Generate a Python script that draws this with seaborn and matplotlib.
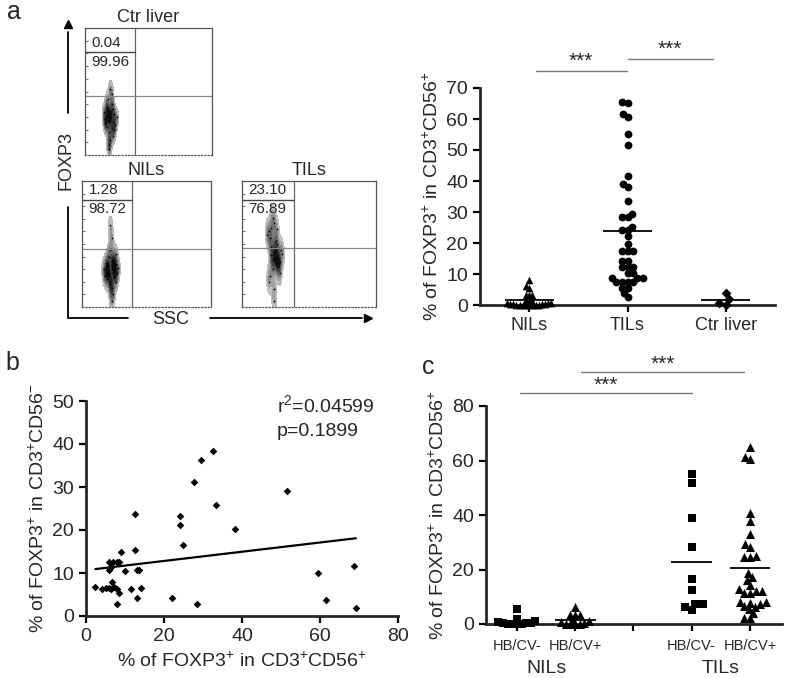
import numpy as np
import pandas as pd
import matplotlib.pyplot as plt
import seaborn as sns
from matplotlib.lines import Line2D
from matplotlib.colors import LinearSegmentedColormap

W, H = 787, 678

# ---- panel a: flow plots, cloud points (box units 0-100)
ctr_x = [20, 18, 22, 17, 21, 19, 23, 16, 20, 18, 24, 21, 19, 15, 22, 20, 17, 25, 19, 21, 18, 22, 20, 23, 16, 19]
ctr_y = [30, 35, 26, 22, 40, 18, 32, 28, 12, 44, 24, 48, 8, 34, 15, 52, 38, 30, 27, 21, 31, 36, 33, 20, 25, 5]
nil_x = [23, 20, 26, 18, 24, 22, 27, 19, 25, 21, 23, 17, 28, 22, 24, 20, 26, 23, 21, 25, 22, 24, 19, 23, 26, 22]
nil_y = [31, 28, 34, 25, 38, 20, 27, 35, 24, 40, 15, 30, 31, 45, 10, 33, 20, 55, 26, 29, 65, 36, 22, 5, 42, 18]
til_x = [22, 20, 24, 19, 23, 26, 21, 25, 24, 28, 22, 27, 25, 30, 23, 26, 29, 21, 24, 27, 25, 22, 28, 24, 26, 20, 23]
til_y = [63, 60, 67, 57, 71, 62, 55, 40, 44, 36, 48, 32, 38, 42, 30, 50, 45, 25, 14, 39, 52, 41, 27, 5, 35, 20, 37]

# ---- panel a: scatter dot plot
a_groups = ["NILs", "TILs", "Ctr liver"]
a_nils = [6.1, 5.6, 8.1, 3.2, 3.2, 3.2, 1.5, 1.2, 1.0, 0.8, 0.6, 0.5, 0.4, 0.3,
          0.2, 0.2, 0.1, 0.1, 0.0, 0.0, 0.0, 0.0, 0.0, 0.0]
a_tils = [65.2, 65.4, 61.7, 60.6, 55.1, 51.7, 41.5, 39.1, 38.2, 33.4, 28.5, 28.5,
          29.4, 24.2, 25.3, 24.2, 22.1, 19.6, 17.5, 17.5, 17.5, 14.3, 14.3, 12.2,
          12.2, 12.2, 10.2, 10.2, 8.6, 8.6, 8.6, 7.5, 7.5, 7.5, 7.5, 5.4, 5.4,
          2.5, 3.8]
a_ctr = [1.8, 0.0, 3.8, 0.5]

# ---- panel b: correlation
b_x = [2.4, 4.1, 5.1, 5.8, 6.4, 7.3, 7.9, 6.0, 6.8, 7.9, 8.5, 6.4, 6.0, 6.7, 8.5,
       7.9, 9.0, 10.1, 11.5, 12.6, 12.6, 13.2, 13.7, 13.2, 14.1, 22.0, 24.1, 24.1,
       24.9, 27.7, 28.5, 29.4, 32.6, 33.3, 38.2, 51.6, 59.5, 61.5, 68.7, 69.2]
b_y = [6.7, 6.3, 6.4, 6.6, 6.3, 6.7, 6.2, 12.6, 12.6, 12.6, 12.6, 11.5, 10.7, 8.0,
       5.4, 2.9, 15.0, 10.5, 6.2, 23.7, 15.3, 10.6, 10.6, 4.3, 6.6, 4.3, 23.3, 21.2,
       16.5, 31.1, 2.9, 36.3, 38.4, 25.8, 20.2, 29.1, 9.9, 3.7, 11.6, 1.8]

# ---- panel c: split by HB/CV status
c_order = ["NILs HB/CV-", "NILs HB/CV+", "", "TILs HB/CV-", "TILs HB/CV+"]
c_ticklabels = ["HB/CV-", "HB/CV+", "", "HB/CV-", "HB/CV+"]
c_nil_neg = [5.4, 1.9, 1.2, 0.8, 0.5, 0.3, 0.2, 0.1, 0.0, 0.0, 0.0]
c_nil_pos = [6.4, 3.3, 3.3, 3.3, 1.5, 1.0, 0.6, 0.3, 0.1, 0.0, 0.0, 0.0]
c_til_neg = [55.0, 51.6, 38.8, 28.4, 16.4, 12.5, 7.3, 7.3, 5.1, 6.4]
c_til_pos = [65.1, 61.4, 60.4, 40.9, 37.9, 33.0, 29.4, 28.4, 25.0, 24.5, 24.5,
             18.8, 17.1, 16.1, 14.3, 12.2, 12.2, 11.3, 11.5, 12.8, 8.2, 7.8, 8.2,
             7.3, 6.7, 5.5, 6.1, 3.9, 2.1, 2.1]

sns.set_style("ticks")
plt.rcParams["font.family"] = ["Liberation Sans", "DejaVu Sans"]
plt.rcParams["mathtext.fontset"] = "custom"
plt.rcParams["mathtext.rm"] = "Liberation Sans"
plt.rcParams["mathtext.default"] = "regular"

fig = plt.figure(figsize=(W / 100, H / 100), dpi=100)


def px_axes(x0, y0, x1, y1):
    return fig.add_axes([x0 / W, 1 - y1 / H, (x1 - x0) / W, (y1 - y0) / H])


def fig_xy(x, y):
    return x / W, 1 - y / H


cloud_cmap = LinearSegmentedColormap.from_list("cloud", ["#d0d0d0", "#000000"])


def flow_panel(box, xs, ys, vline, hline, gate, hi, lo, title):
    ax = px_axes(*box)
    sns.kdeplot(x=xs, y=ys, fill=True, cmap=cloud_cmap, levels=8, thresh=0.06,
                bw_adjust=0.75, ax=ax)
    ax.scatter(xs, ys, s=1.5, c="k", lw=0)
    ax.set_xlim(0, 100)
    ax.set_ylim(0, 100)
    ax.axvline(vline, color="#666666", lw=0.9)
    ax.axhline(hline, color="#888888", lw=0.9)
    ax.axhline(gate, xmax=vline / 100, color="#444444", lw=1.0)
    ax.text(5, gate + 2, hi, fontsize=11, va="bottom", ha="left")
    ax.text(5, gate - 2, lo, fontsize=11, va="top", ha="left")
    for s in ax.spines.values():
        s.set_color("#555555")
        s.set_linewidth(0.9)
    ax.spines["bottom"].set_linestyle(":")
    ax.set_xticks([])
    ax.set_yticks([10, 20, 30, 40, 50, 60, 70, 80, 90])
    ax.tick_params(axis="y", direction="in", length=2, labelleft=False, color="#777777")
    ax.set_xlabel("")
    ax.set_ylabel("")
    ax.set_title(title, fontsize=13, pad=4)
    return ax


flow_panel((85, 28, 212, 155), ctr_x, ctr_y, 39, 46.5, 81, "0.04", "99.96", "Ctr liver")
flow_panel((82, 181, 211, 307), nil_x, nil_y, 39, 46, 85, "1.28", "98.72", "NILs")
flow_panel((242, 181, 376, 307), til_x, til_y, 39, 47, 85, "23.10", "76.89", "TILs")

# flow axis arrows and labels
fig.add_artist(Line2D(*zip(fig_xy(68, 318), fig_xy(68, 207)), color="k", lw=1.3))
fig.add_artist(Line2D(*zip(fig_xy(68, 318), fig_xy(128, 318)), color="k", lw=1.3))
fig.add_artist(Line2D(*zip(fig_xy(68, 113), fig_xy(68, 32)), color="k", lw=1.3))
fig.add_artist(Line2D(*zip(fig_xy(210, 318), fig_xy(362, 318)), color="k", lw=1.3))
fig.add_artist(Line2D([fig_xy(68, 24)[0]], [fig_xy(68, 24)[1]], marker="^", ms=6, color="k"))
fig.add_artist(Line2D([fig_xy(368, 318)[0]], [fig_xy(368, 318)[1]], marker=">", ms=6, color="k"))
fig.text(*fig_xy(66, 160), "FOXP3", rotation=90, fontsize=13, ha="center", va="center")
fig.text(*fig_xy(171, 320), "SSC", fontsize=13, ha="center", va="center")

# panel letters
fig.text(*fig_xy(14, 12), "a", fontsize=18, ha="center", va="center")
fig.text(*fig_xy(12, 363), "b", fontsize=18, ha="center", va="center")
fig.text(*fig_xy(428, 367), "c", fontsize=18, ha="center", va="center")


def style_axes(ax):
    sns.despine(ax=ax)
    ax.spines["left"].set_linewidth(2)
    ax.spines["bottom"].set_linewidth(2)
    ax.tick_params(direction="out", length=5, width=1.6, labelsize=14, color="k")


def sig_bar(ax, x0, x1, y, ty):
    ax.plot([x0, x1], [y, y], color="#777777", lw=1.0, clip_on=False)
    ax.text((x0 + x1) / 2, ty, "***", fontsize=15, ha="center", va="center", clip_on=False)


def swarm(ax, data, order, group, marker, layout_size, size):
    # lay the swarm out with a small marker so dots overlap like in prism plots
    sub = data[data["group"] == group]
    n0 = len(ax.collections)
    sns.swarmplot(data=sub, x="group", y="value", order=order, marker=marker,
                  color="k", size=layout_size, ax=ax, clip_on=False, warn_thresh=1)
    k = (size / layout_size) ** 2
    return [(c, k) for c in ax.collections[n0:]]


# ---- panel a right: dot plot
df_a = pd.DataFrame({
    "group": ["NILs"] * len(a_nils) + ["TILs"] * len(a_tils) + ["Ctr liver"] * len(a_ctr),
    "value": a_nils + a_tils + a_ctr,
})
ax_a = px_axes(480, 88, 775, 305)
grow = []
grow += swarm(ax_a, df_a, a_groups, "NILs", "^", 2.2, 5.5)
grow += swarm(ax_a, df_a, a_groups, "TILs", "o", 3.8, 5.6)
grow += swarm(ax_a, df_a, a_groups, "Ctr liver", "D", 4.5, 5.0)
means_a = df_a.groupby("group")["value"].mean().reindex(a_groups)
for i, mval in enumerate(means_a):
    ax_a.hlines(mval, i - 0.25, i + 0.25, color="k", lw=1.3, zorder=5)
ax_a.set_xlim(-0.5, 2.5)
ax_a.set_ylim(0, 70)
ax_a.set_yticks(range(0, 71, 10))
ax_a.set_xlabel("")
ax_a.set_ylabel(r"% of FOXP3$^{+}$ in CD3$^{+}$CD56$^{+}$", fontsize=14, labelpad=3)
style_axes(ax_a)
ax_a.tick_params(axis="x", labelsize=13)
sig_bar(ax_a, 0.07, 0.99, 75.5, 78.6)
sig_bar(ax_a, 1.0, 1.87, 79.4, 82.6)

# ---- panel b: correlation
ax_b = px_axes(86, 401, 398, 616)
sns.regplot(x=b_x, y=b_y, ci=None, truncate=True, marker="D", color="k",
            scatter_kws={"s": 15, "alpha": 1, "clip_on": False, "linewidths": 0},
            line_kws={"lw": 1.6}, ax=ax_b)
ax_b.set_xlim(0, 80)
ax_b.set_ylim(0, 50)
ax_b.set_xticks(range(0, 81, 20))
ax_b.set_yticks(range(0, 51, 10))
ax_b.set_xlabel(r"% of FOXP3$^{+}$ in CD3$^{+}$CD56$^{+}$", fontsize=14, labelpad=5)
ax_b.set_ylabel(r"% of FOXP3$^{+}$ in CD3$^{+}$CD56$^{-}$", fontsize=14, labelpad=3)
style_axes(ax_b)
ax_b.text(49, 49, r"r$^{2}$=0.04599", fontsize=14, va="center")
ax_b.text(49, 43, "p=0.1899", fontsize=14, va="center")

# ---- panel c: HB/CV split
df_c = pd.DataFrame({
    "group": ([c_order[0]] * len(c_nil_neg) + [c_order[1]] * len(c_nil_pos)
              + [c_order[3]] * len(c_til_neg) + [c_order[4]] * len(c_til_pos)),
    "value": c_nil_neg + c_nil_pos + c_til_neg + c_til_pos,
})
ax_c = px_axes(486, 406, 782, 624)
grow += swarm(ax_c, df_c, c_order, c_order[0], "s", 3.2, 5.8)
grow += swarm(ax_c, df_c, c_order, c_order[1], "^", 3.2, 6.5)
grow += swarm(ax_c, df_c, c_order, c_order[3], "s", 5.0, 5.8)
grow += swarm(ax_c, df_c, c_order, c_order[4], "^", 4.2, 6.5)
means_c = df_c.groupby("group")["value"].mean()
for i, g in enumerate(c_order):
    if g in means_c:
        ax_c.hlines(means_c[g], i - 0.35, i + 0.35, color="k", lw=1.3, zorder=5)
ax_c.set_xlim(-0.53, 4.55)
ax_c.set_ylim(0, 80)
ax_c.set_yticks(range(0, 81, 20))
ax_c.set_xticks(range(len(c_order)))
ax_c.set_xticklabels(c_ticklabels)
ax_c.set_xlabel("")
ax_c.set_ylabel(r"% of FOXP3$^{+}$ in CD3$^{+}$CD56$^{+}$", fontsize=14, labelpad=3)
style_axes(ax_c)
ax_c.tick_params(axis="x", labelsize=10.5, pad=6)
ax_c.text(0.5, -16.5, "NILs", fontsize=14, ha="center", va="center")
ax_c.text(3.5, -16.5, "TILs", fontsize=14, ha="center", va="center")
sig_bar(ax_c, 0.05, 3.0, 84.8, 87.6)
sig_bar(ax_c, 1.1, 3.9, 92.5, 95.3)

# freeze swarm positions, then enlarge the markers
fig.canvas.draw()
for coll, k in grow:
    if "draw" in coll.__dict__:
        del coll.draw
    sizes = coll.get_sizes()
    if len(sizes):
        coll.set_sizes(sizes * k)

fig.savefig("out.png", dpi=100)
